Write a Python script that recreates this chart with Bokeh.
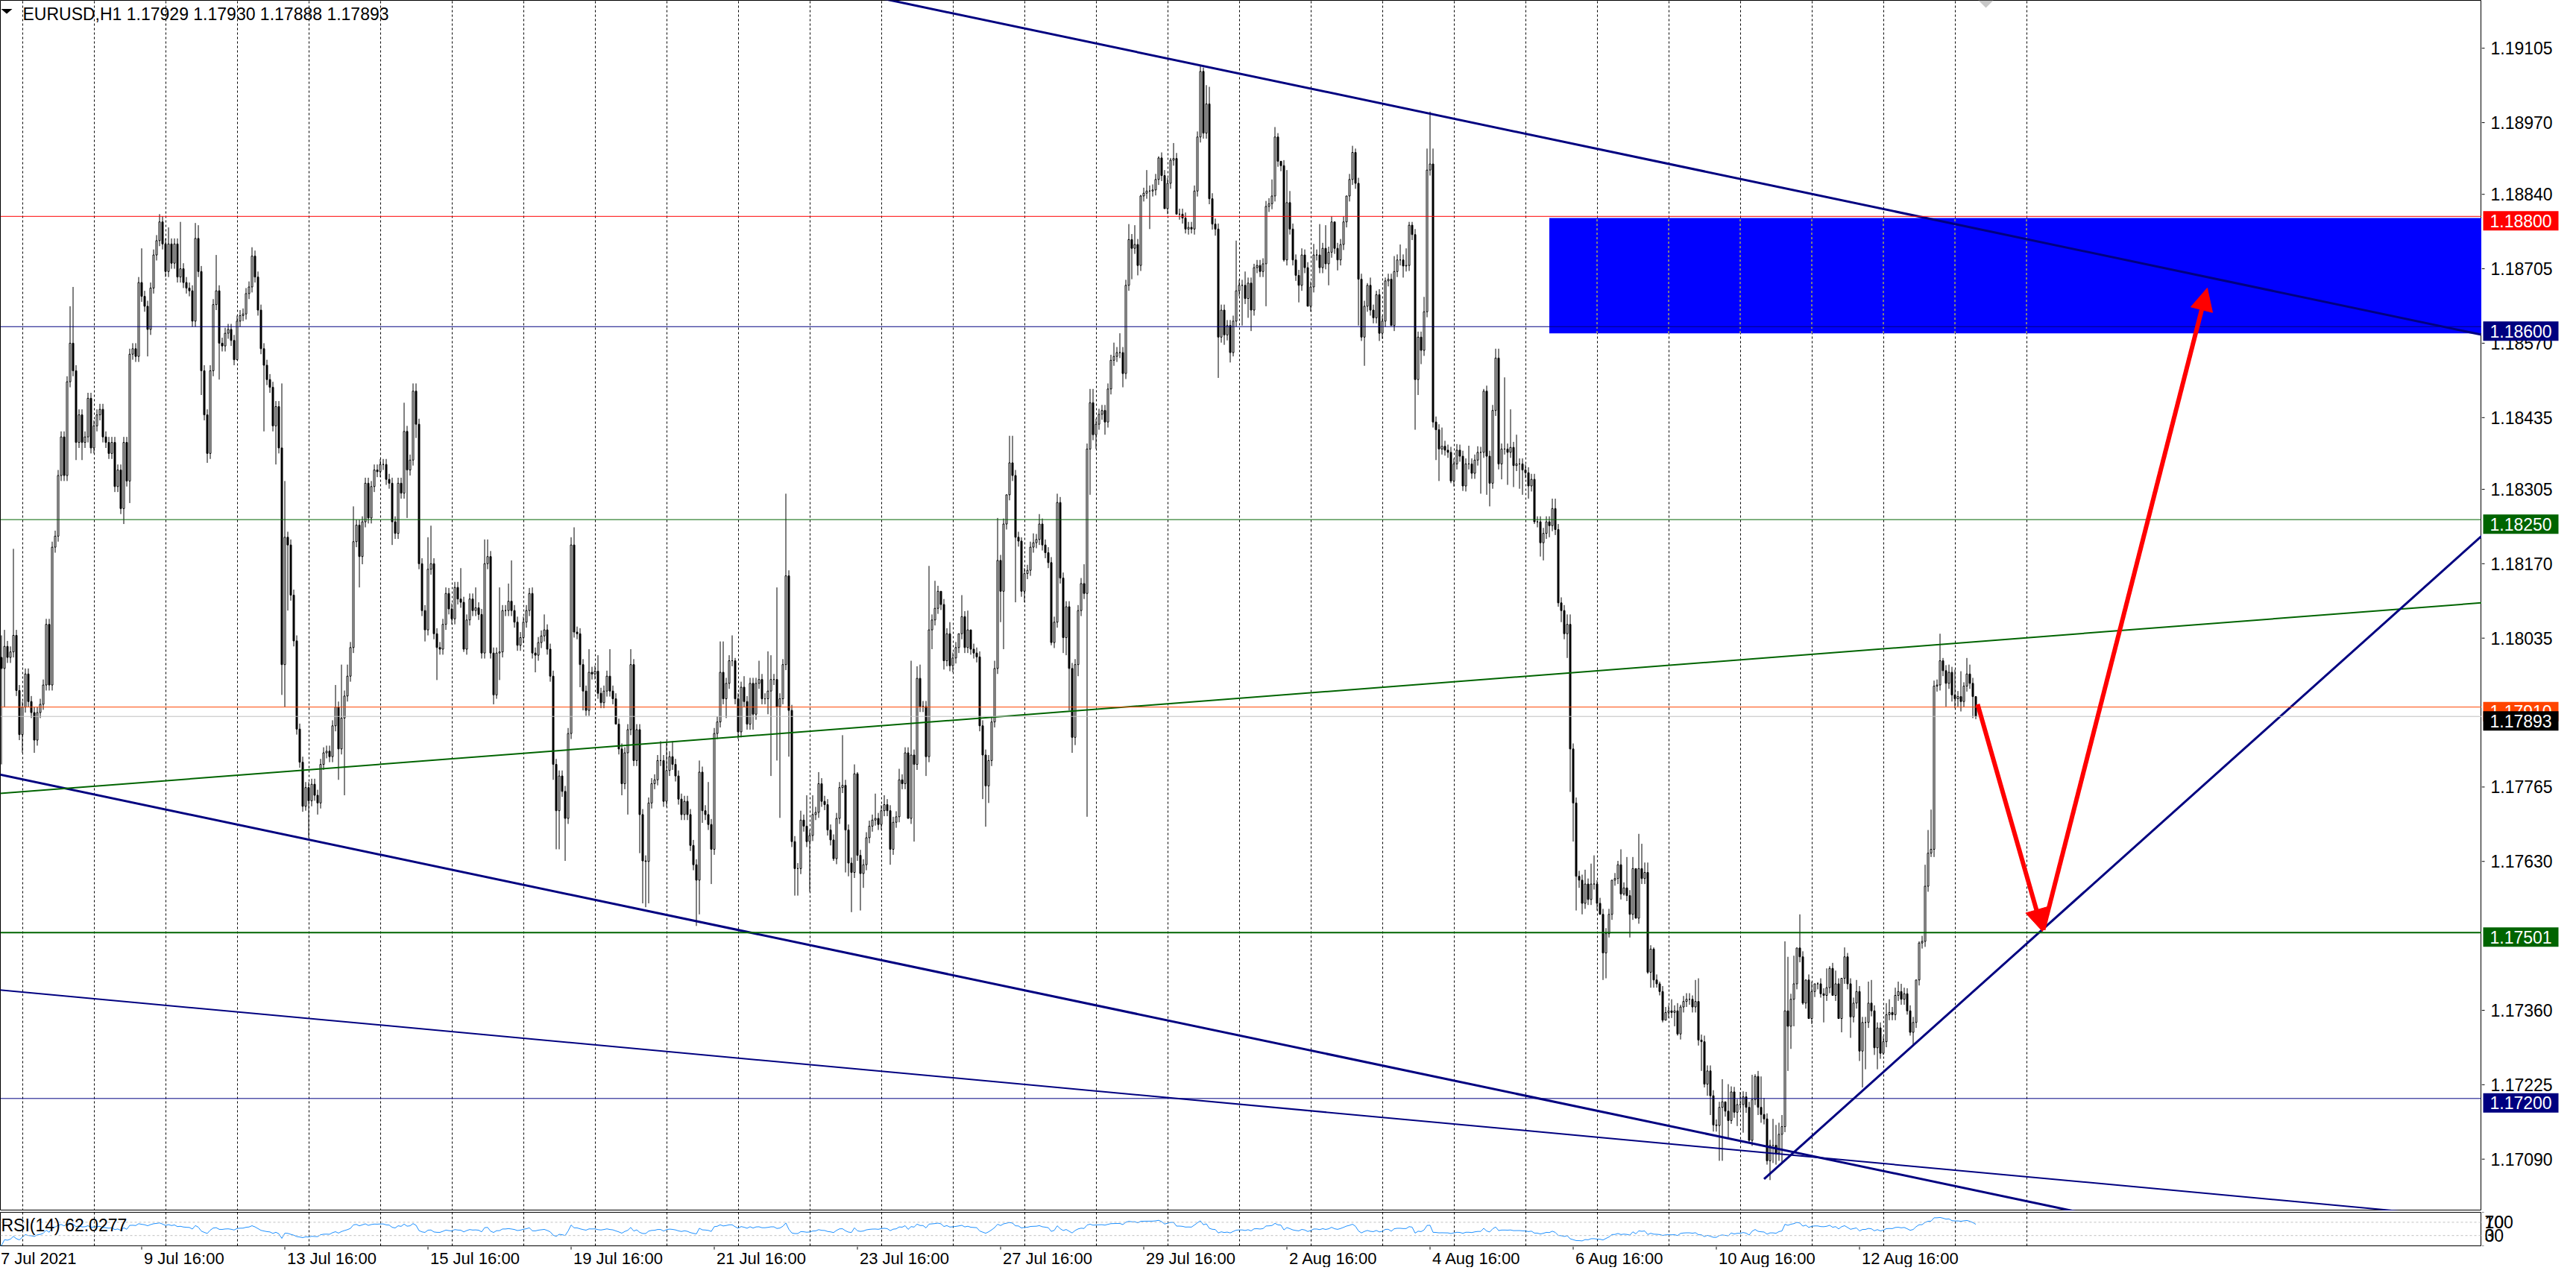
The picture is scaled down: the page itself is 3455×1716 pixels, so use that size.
import numpy as np
from bokeh.plotting import figure
from bokeh.layouts import column, row
from bokeh.models import (Range1d, FixedTicker, Grid, Label, Span,
                          Arrow, NormalHead, PolyAnnotation, ColumnDataSource)
from bokeh.core.properties import value
from bokeh.embed import file_html
from bokeh.resources import INLINE

# ---------------- data (prices in pips above BASE) ----------------
SYMBOL = "EURUSD,H1"
BASE = 1.17
PIP = 0.0001
FIRST_OPEN_PIPS = 117.0
CLOSE_PIPS = [
    100, 98, 102, 100, 101, 104, 94, 86, 91, 97,
    92, 90, 85, 90, 91.5, 95, 106, 95, 120, 122,
    133, 140, 133, 150, 157, 152, 139, 144, 139, 140,
    147, 138, 142, 144, 145, 140, 139, 137, 139, 131,
    134, 127, 139, 132, 155, 156, 154.6, 168, 165.5, 163.7,
    159.5, 167, 173, 175.6, 179, 175, 170, 175, 171.5, 175,
    169, 170.5, 168, 167, 166.5, 161, 176, 170, 152, 144,
    137, 152, 164, 166.5, 157, 156.5, 158.8, 159.5, 157.5, 154,
    161, 162, 162.3, 166, 167.2, 172.8, 169, 163, 156, 153,
    150.4, 149, 142, 145.5, 138, 98.7, 121.8, 120.4, 111.3, 103,
    87, 81, 73, 76.4, 74, 77, 75, 73.6, 80.6, 82.7,
    83, 82, 87.6, 91, 83.4, 89, 93, 96.6, 101.8, 121,
    124, 118.3, 124.6, 131.6, 125.3, 131, 134, 133.7, 135, 135,
    132.3, 131.6, 124.6, 122.5, 131.6, 129.8, 141, 134, 135.8, 148.3,
    142.3, 117, 108.5, 105, 116, 117, 104.3, 101.8, 101.5, 106,
    111.6, 108.8, 107, 112.7, 110.6, 110, 101.5, 106.8, 110.6, 108.5,
    109, 107.8, 100.8, 117, 118.3, 100.8, 93.2, 100.8, 101, 108.5,
    108.5, 110.2, 108.5, 106.4, 102.2, 103.6, 106.4, 108.5, 111.6, 100.8,
    100.4, 102.7, 103.9, 105, 101.5, 96.6, 80.6, 72.2, 78.5, 75.7,
    70.8, 86.2, 120.4, 104.6, 104.3, 98.7, 93.9, 90.4, 97.3, 97,
    97.5, 93.5, 91.8, 93.9, 96.6, 93.9, 92.5, 87.9, 83.4, 77.1,
    82.7, 86.9, 98.7, 81.3, 86.9, 71.5, 63.1, 63, 73.6, 77.1,
    77.8, 81.3, 81.3, 73.9, 79.5, 82, 80.6, 78.5, 74.3, 71.5,
    73.9, 71.5, 65.9, 62.4, 59.6, 79.2, 72.2, 71.5, 69.7, 65.2,
    86.2, 88.3, 97.3, 92.5, 95.3, 99.4, 99.4, 92.5, 86.5, 94.6,
    92, 87.9, 95.3, 89.7, 95.3, 96, 92.5, 92.5, 93.9, 96,
    96, 91.1, 92.5, 98.7, 114.8, 90.4, 66.6, 61.7, 61.7, 70.5,
    69.4, 66.6, 67.7, 71.5, 71.9, 77.1, 73.9, 73.3, 68.7, 66.9,
    63.5, 70.8, 76.4, 76.8, 68.7, 62.7, 61, 78.9, 64.1, 60.8,
    62.4, 67.3, 69.4, 70.5, 70.8, 69.7, 72.2, 73.3, 72.2, 65.2,
    70.1, 71.1, 77.8, 77.1, 82.7, 70.8, 82.3, 80.6, 96.2, 91.1,
    91.1, 82, 105, 106.8, 108.9, 112, 109.6, 99.4, 104.3, 98.5,
    99.9, 101.8, 104.3, 107.4, 101.8, 105, 101.5, 100.8, 100.1, 87.6,
    82.3, 76.7, 81.3, 88.3, 98, 117.6, 112, 124.2, 129.5, 135.3,
    133, 121.8, 121.1, 112, 115.2, 115.8, 120, 120.8, 121.4, 124.2,
    120.4, 119, 117.2, 102.7, 106.4, 128.1, 114.4, 103.6, 109.2, 98,
    85.5, 98.7, 108.5, 113.4, 111.6, 137.8, 146.2, 140.4, 142.3, 144.1,
    144.8, 142.7, 148.7, 153.9, 154.6, 155.3, 155.3, 151.5, 167.5, 175.8,
    174.2, 174.9, 171.1, 183.7, 184.2, 184.6, 184.6, 184.8, 186.7, 190.6,
    187.4, 181.4, 186, 190.2, 190.5, 180.4, 180.4, 179.7, 177.7, 178,
    177.7, 184.6, 194.4, 206.3, 195.1, 200.4, 183.2, 178.6, 177.7, 158.1,
    163, 158.5, 160.2, 155.3, 161, 166.5, 167.5, 167.5, 165.1, 167.9,
    163, 170.7, 171.1, 170, 171.4, 181.8, 182.3, 183.7, 194.4, 190,
    189.2, 172.1, 182.5, 177.7, 172.1, 169.3, 167.5, 173, 170.7, 163.7,
    167.2, 173, 173, 170.7, 174.2, 171.4, 173.5, 179, 174.2, 172.1,
    174.9, 179, 183.7, 186.7, 191.6, 186, 168.6, 158.1, 163.7, 167.5,
    163, 161.6, 165.8, 158.8, 161, 168.3, 168.6, 160.2, 170, 172.1,
    172.1, 171, 171.1, 178.4, 176.7, 150.4, 158.1, 155.7, 162.7, 188.4,
    189.5, 142.7, 141.3, 137.8, 138.3, 137.6, 137.2, 132, 135.1, 137.6,
    136.5, 131.1, 135.1, 135.1, 133.4, 135.8, 137.2, 137.2, 148.3, 136.5,
    131.6, 144.8, 154.3, 135.1, 137.8, 137.8, 137.2, 138.1, 134.8, 135.1,
    135.1, 134, 133.5, 131.1, 132.3, 124.6, 124.6, 120.8, 122.5, 124.6,
    123.9, 127, 123.2, 109.9, 108.5, 104.3, 106, 83.4, 73.6, 60.3,
    59.6, 55.4, 58.9, 56.1, 58.9, 58.9, 55.4, 53.4, 46.4, 49.9,
    53.4, 59.6, 59.9, 62.4, 57.1, 58.2, 56.8, 53.4, 61.7, 52.7,
    61.7, 59.9, 61, 42.9, 47.1, 41.5, 40.8, 39.4, 34.2, 35.6,
    35.9, 35.6, 35.9, 31.7, 36.6, 37.6, 38, 38, 36.6, 37.6,
    30.6, 30.3, 22.6, 25, 20.5, 15.2, 15.1, 18.4, 19.4, 17.7,
    16, 21.2, 17.5, 18.9, 18.9, 20.3, 18.4, 12.4, 19.8, 24,
    18.4, 17.1, 16.3, 8.7, 11.5, 11.5, 10.1, 13.5, 14.9, 35.9,
    33.1, 38, 40.8, 47.3, 45.7, 37.3, 41.5, 34.5, 39.4, 40.8,
    40.8, 39, 38.7, 40.1, 43.6, 38.7, 40.8, 34.5, 41.8, 45.7,
    40.8, 34.8, 37.3, 39.4, 28.6, 33.8, 33.8, 37.3, 35.9, 29.2,
    32.8, 28.2, 30.3, 35.2, 35.6, 35.2, 38.7, 39.4, 38, 39,
    35.9, 32, 33.8, 41.5, 48.2, 48.5, 58.5, 64.5, 65.2, 94.8,
    95, 99.4, 97.6, 95.3, 97.3, 93.2, 92.5, 92.9, 92, 94.8,
    97, 95.3, 92.9, 89.3,
]
# read-off wick extremes (bar index -> pips); other bars have a short default wick
HIGH_PIPS = {0: 118, 1: 104, 2: 105, 5: 119.7, 24: 163.7, 25: 167.2, 48: 174.2, 54: 180.4, 57: 178, 61: 179,
    66: 178.8, 67: 178.4, 73: 173, 85: 174.4, 95: 149.7, 96: 132, 113: 95, 115: 98.7, 117: 98.7, 119: 127.4,
    136: 146.2, 139: 149.7, 140: 149.7, 144: 121.8, 145: 123.9, 150: 112.7, 155: 116.2, 160: 112.7, 163: 121.4,
    164: 121.4, 168: 112.7, 171: 113.4, 172: 117.6, 179: 112.7, 183: 107.8, 192: 121.8, 193: 123.6, 198: 101.5,
    201: 100.4, 205: 101.5, 212: 101.5, 222: 84.8, 224: 84.8, 226: 84.8, 235: 81.3, 238: 77.4, 242: 102.9,
    243: 102.9, 246: 104, 247: 99.9, 250: 96.6, 255: 99.4, 258: 101.1, 259: 100.4, 261: 112.7, 264: 129.7,
    269: 72.2, 271: 75, 273: 75, 275: 79.2, 283: 85.9, 287: 80.6, 288: 79.2, 294: 75.3, 297: 75, 302: 79.8,
    306: 99.4, 308: 98.4, 309: 98.7, 312: 116.6, 314: 113.9, 316: 112, 319: 106.4, 322: 104.3, 323: 111.3,
    325: 108.5, 326: 104.9, 334: 99.4, 335: 125.3, 338: 125.3, 339: 140.2, 340: 140.2, 343: 121.8, 347: 122.5,
    349: 126, 355: 129.7, 364: 116.9, 366: 148.7, 367: 148.7, 374: 157.1, 376: 158.8, 379: 178.6, 381: 178.4,
    383: 183.9, 385: 188.4, 389: 190.9, 393: 190.6, 394: 193.3, 403: 207.4, 404: 207, 405: 203.8, 406: 203.5,
    415: 175.6, 418: 170, 421: 171.4, 427: 186.7, 428: 196.2, 429: 195.1, 430: 188.4, 432: 188.4, 433: 184.6,
    437: 174.2, 441: 175, 443: 178.6, 445: 178.4, 448: 175.3, 452: 182.3, 454: 192.8, 455: 192.3, 459: 167.9,
    460: 168.9, 462: 166.5, 465: 168.9, 468: 172.8, 470: 174.9, 472: 174.2, 473: 179, 474: 179, 478: 165.4,
    479: 192.3, 480: 199, 481: 192.3, 484: 141.7, 489: 138.7, 493: 138.4, 496: 138.3, 498: 148.7, 501: 145.8,
    502: 156, 503: 156, 505: 150.8, 507: 145, 509: 140.4, 521: 128.8, 522: 128.8, 526: 107.8, 527: 107.8,
    532: 61.5, 534: 62.6, 535: 64.1, 536: 59.6, 541: 59.6, 543: 63.1, 544: 65.2, 546: 63.8, 548: 63.8,
    549: 61.5, 550: 68, 551: 66.2, 552: 62.8, 553: 62.8, 554: 47.8, 555: 47.4, 557: 41.2, 561: 38, 563: 37.3,
    564: 37, 566: 39.1, 567: 39.1, 568: 38.7, 569: 41.5, 570: 41.8, 572: 31.4, 578: 23.5, 579: 19.4, 580: 22.6,
    582: 22.1, 584: 21.2, 586: 21.2, 588: 24.3, 589: 24.4, 591: 24, 592: 20.1, 595: 16.3, 596: 15.2, 597: 15.6,
    598: 17, 599: 48.5, 600: 45.7, 602: 45.9, 603: 47.3, 604: 53.4, 606: 41.2, 608: 41.2, 609: 40.4, 610: 41.1,
    613: 43.6, 614: 44, 616: 43.2, 618: 41.2, 619: 47.4, 620: 46.4, 623: 41.5, 627: 41.2, 628: 41.5, 633: 37.3,
    634: 38, 636: 40.1, 637: 41.2, 638: 40.8, 639: 40.1, 643: 41.5, 644: 48.5, 646: 62.4, 647: 68.7, 648: 72.4,
    651: 104.3, 652: 99.9, 654: 98.7, 656: 97.8, 658: 97.5, 659: 95.5, 660: 99.9, 661: 98.7, 663: 93.0}
LOW_PIPS = {0: 98, 1: 80.6, 2: 91, 8: 82.7, 12: 82.7, 26: 135.8, 28: 135.8, 42: 124.2, 44: 128, 50: 154.6,
    68: 147.6, 70: 135.3, 74: 150.4, 80: 154, 89: 141, 93: 135, 95: 93.2, 96: 91, 97: 108.5, 99: 102,
    103: 72.2, 104: 67.3, 107: 71.5, 114: 77.8, 116: 75, 121: 112.7, 122: 116.9, 132: 120.4, 137: 125.3,
    140: 139.8, 143: 102.9, 147: 95.9, 156: 101, 166: 91.5, 167: 92.5, 168: 95.9, 180: 97.3, 186: 77.8,
    187: 65.2, 188: 65.2, 190: 63.1, 195: 94.6, 196: 90.4, 207: 89.7, 209: 75, 211: 71.5, 215: 64.5,
    216: 55.4, 217: 54.7, 218: 55.4, 234: 51.3, 235: 53.4, 236: 70, 239: 58.9, 244: 89, 248: 85.2, 251: 86.9,
    253: 86.9, 258: 89.7, 259: 78.5, 261: 81.3, 262: 70.9, 265: 82, 267: 56.8, 268: 56.8, 272: 57.5,
    280: 63.1, 284: 61, 285: 60.3, 286: 53.8, 289: 54.1, 290: 58.2, 299: 62.4, 305: 70.8, 307: 66.6,
    311: 78.5, 313: 101.5, 317: 97.8, 320: 97.3, 330: 74.3, 331: 69.3, 332: 73.6, 336: 106.4, 337: 101.5,
    341: 110, 344: 110, 353: 102.2, 357: 100.8, 358: 100.4, 359: 90.4, 360: 82.7, 361: 84.1, 362: 96.6,
    365: 71.1, 366: 129.5, 368: 137.8, 371: 140.4, 377: 149, 380: 168.6, 382: 169.3, 386: 177.7, 391: 183.4,
    395: 180.4, 398: 176.9, 400: 176.9, 408: 176.5, 409: 150.7, 410: 157.1, 411: 156.7, 413: 153.5,
    414: 154.6, 417: 160.2, 419: 161.6, 420: 159.2, 425: 163.7, 431: 171.8, 436: 164.4, 439: 163.7,
    446: 167.5, 449: 170.2, 456: 160.2, 457: 157.4, 458: 152.9, 463: 157.4, 467: 160.6, 471: 168.9,
    475: 141.3, 476: 147.6, 477: 153.2, 482: 135.8, 483: 132, 487: 131.6, 491: 130.2, 497: 129.7, 499: 129.5,
    500: 127.4, 504: 132.3, 506: 131.3, 508: 130.9, 510: 130.6, 511: 129.5, 513: 128.8, 515: 124.2,
    517: 118.3, 518: 117.6, 520: 121.8, 523: 109.2, 524: 106.4, 526: 99.9, 527: 75.6, 528: 66.6, 529: 54.1,
    530: 58.2, 531: 53.4, 536: 54.1, 537: 53.4, 538: 41.5, 539: 41.8, 540: 49.2, 545: 56.8, 547: 49.2,
    549: 52.7, 553: 42.6, 554: 40.1, 555: 40.1, 556: 40.1, 557: 38.7, 558: 33.8, 559: 34.2, 562: 33.1,
    563: 31.4, 571: 25, 572: 22, 573: 20.5, 574: 17, 575: 14, 576: 14, 577: 8.7, 578: 8.7, 580: 12.8,
    581: 15.4, 583: 15, 585: 13.8, 587: 12.1, 590: 17, 591: 15.6, 593: 8, 594: 5.2, 595: 8.3, 596: 8,
    597: 8.7, 598: 8.3, 600: 25, 601: 29, 602: 33.1, 605: 37, 607: 34.5, 611: 38.3, 612: 33.8, 615: 38.7,
    617: 34.5, 618: 32, 621: 31, 624: 26.8, 625: 22, 626: 25.3, 629: 27.9, 630: 25.3, 632: 27.9, 640: 35.2,
    641: 31.4, 642: 29.7, 648: 63.8, 649: 63.8, 653: 91.1, 655: 92, 656: 90.8, 657: 91.1, 658: 90.2,
    662: 89, 663: 88.8}
WICK_PIPS = 1.0

PRICE_TICKS = [1.19105, 1.18970, 1.18840, 1.18705, 1.18570, 1.18435, 1.18305, 1.18170,
               1.18035, 1.17765, 1.17630, 1.17360, 1.17225, 1.17090]
TIME_TICKS = [0, 48, 96, 144, 192, 240, 288, 336, 384, 432, 480, 528, 576, 624]
TIME_LABELS = ["7 Jul 2021", "9 Jul 16:00", "13 Jul 16:00", "15 Jul 16:00", "19 Jul 16:00",
               "21 Jul 16:00", "23 Jul 16:00", "27 Jul 16:00", "29 Jul 16:00", "2 Aug 16:00",
               "4 Aug 16:00", "6 Aug 16:00", "10 Aug 16:00", "12 Aug 16:00"]
DAY_START_BARS = [8 + 24 * k for k in range(29)]   # midnight bars (grid)

LEVELS = [(1.18800, "#FF0000", 1), (1.18600, "#000080", 1), (1.18250, "#006400", 1),
          (1.17910, "#FF4500", 1), (1.17501, "#006400", 2), (1.17200, "#000080", 1)]
ZONE = dict(left=520, top=1.18797, bottom=1.18588)
TRENDLINES = [  # (anchor A, anchor B, color, width, start bar)
    ((329, 1.19158), (664, 1.18777), "#000080", 3, None),
    ((0, 1.17788), (664, 1.17032), "#000080", 3, None),
    ((0, 1.17397), (664, 1.17066), "#000080", 2, None),
    ((0, 1.17753), (664, 1.18029), "#006400", 2, None),
    ((592, 1.17054), (664, 1.17403), "#000080", 3, 592),
]
ARROWS = [((663.6, 1.17915), (685.4, 1.17503)), ((685.6, 1.17506), (740.6, 1.18670))]
RSI_PERIOD = 14
RSI_LEVELS = [70, 30]
RSI_TEXT = "RSI(14) 62.0277"

# ---------------- layout constants ----------------
FONT = "Liberation Sans"
FS = "23px"
W, RB = 3439, 111
FW = W - RB
MAIN_H, RSI_H, TIME_H = 1624, 48, 28
X0, X1 = 0.625, 832.625
Y0, Y1 = 1.169963, 1.191918
PPP = MAIN_H / (Y1 - Y0)          # pixels per price unit in the main pane

def price(v):
    return BASE + v * PIP

n = len(CLOSE_PIPS)
idx = list(range(n))
opens = [FIRST_OPEN_PIPS] + CLOSE_PIPS[:-1]
highs, lows = [], []
for i, (o, c) in enumerate(zip(opens, CLOSE_PIPS)):
    highs.append(max(HIGH_PIPS.get(i, max(o, c) + WICK_PIPS), max(o, c)))
    lows.append(min(LOW_PIPS.get(i, min(o, c) - WICK_PIPS), min(o, c)))

src = ColumnDataSource(dict(
    x=idx,
    h=[price(v) for v in highs],
    l=[price(v) for v in lows],
    top=[price(max(o, c)) for o, c in zip(opens, CLOSE_PIPS)],
    bot=[price(min(o, c)) for o, c in zip(opens, CLOSE_PIPS)],
    fill=["white" if c >= o else "black" for o, c in zip(opens, CLOSE_PIPS)],
))

# RSI (Wilder)
cl = np.array([FIRST_OPEN_PIPS] + CLOSE_PIPS, dtype=float)
d = np.diff(cl)
g = np.clip(d, 0, None)
ls = np.clip(-d, 0, None)
ag = np.zeros(n); al = np.zeros(n)
ag[0], al[0] = g[0], ls[0]
for i in range(1, n):
    k = min(i + 1, RSI_PERIOD)
    ag[i] = ag[i - 1] + (g[i] - ag[i - 1]) / k
    al[i] = al[i - 1] + (ls[i] - al[i - 1]) / k
rsi = np.where(al + ag > 0, 100 * ag / np.maximum(ag + al, 1e-12), 50.0)


def make_fig(width, height, x_range, y_range, **kw):
    f = figure(width=width, height=height, x_range=x_range, y_range=y_range,
               output_backend="svg", toolbar_location=None, x_axis_location=None,
               y_axis_location=None, min_border_left=0, min_border_right=0,
               min_border_top=kw.pop("top", 0), min_border_bottom=kw.pop("bottom", 0), **kw)
    f.background_fill_color = "white"
    f.border_fill_color = "white"
    f.grid.visible = False
    return f


def day_grid(f):
    f.add_layout(Grid(dimension=0, ticker=FixedTicker(ticks=DAY_START_BARS), grid_line_color="black",
                      grid_line_dash="3 3", grid_line_width=1))

# ---------------- main chart ----------------
p = make_fig(FW, MAIN_H, Range1d(X0, X1), Range1d(Y0, Y1))
p.outline_line_color = "black"
day_grid(p)

# zone rectangle + grid showing through it
p.quad(left=[ZONE["left"]], right=[X1 + 10], top=[ZONE["top"]], bottom=[ZONE["bottom"]],
       fill_color="#0000FF", line_color=None)
zx = [b for b in DAY_START_BARS if b >= ZONE["left"]]
p.segment(x0=zx, x1=zx, y0=[ZONE["bottom"]] * len(zx), y1=[ZONE["top"]] * len(zx),
          line_color="#FFFF00", line_dash="3 3", line_width=1)

# candles
p.segment(x0="x", y0="l", x1="x", y1="h", source=src, line_color="black", line_width=1)
p.vbar(x="x", top="top", bottom="bot", width=0.5, fill_color="fill", line_color="black",
       line_width=1, source=src)

# horizontal levels
for lvl, col, wd in LEVELS:
    p.add_layout(Span(location=lvl, dimension="width", line_color=col, line_width=wd))
last_close = price(CLOSE_PIPS[-1])
p.add_layout(Span(location=last_close, dimension="width", line_color="#C0C0C0", line_width=1))

# trend lines
for (xa, ya), (xb, yb), col, wd, start in TRENDLINES:
    k = (yb - ya) / (xb - xa)
    xs = [start if start is not None else X0 - 5, X1 + 5]
    p.line(xs, [ya + k * (x - xa) for x in xs], line_color=col, line_width=wd)

# arrows
for (xs_, ys_), (xe, ye) in ARROWS:
    p.add_layout(Arrow(end=NormalHead(size=30, fill_color="#FF0000", line_color="#FF0000", line_width=1),
                       x_start=xs_, y_start=ys_, x_end=xe, y_end=ye,
                       line_color="#FF0000", line_width=6))

# header
o_, h_, l_, c_ = price(opens[-1]), price(highs[-1]), price(lows[-1]), price(CLOSE_PIPS[-1])
title = f"{SYMBOL}  {o_:.5f} {h_:.5f} {l_:.5f} {c_:.5f}"
p.add_layout(Label(x=30, y=MAIN_H - 18, x_units="screen", y_units="screen", text=title,
                   text_font=FONT, text_font_size=FS, text_color="black", text_baseline="middle"))
p.add_layout(PolyAnnotation(xs=[1, 16, 8.5], ys=[MAIN_H - 11.5, MAIN_H - 11.5, MAIN_H - 18],
                            xs_units="screen", ys_units="screen", fill_color="black",
                            fill_alpha=1, line_color=None))
p.add_layout(PolyAnnotation(xs=[2653, 2673, 2663], ys=[MAIN_H, MAIN_H, MAIN_H - 10],
                            xs_units="screen", ys_units="screen", fill_color="#C8C8C8",
                            fill_alpha=1, line_color=None))

# ---------------- price scale (right of the chart) ----------------
ps = make_fig(RB, MAIN_H, Range1d(0, RB), p.y_range)
ps.outline_line_color = None
ps.segment(x0=[0] * len(PRICE_TICKS), x1=[4] * len(PRICE_TICKS), y0=PRICE_TICKS, y1=PRICE_TICKS,
           line_color="black", line_width=1)
ps.text(x=[12] * len(PRICE_TICKS), y=PRICE_TICKS, text=[f"{v:.5f}" for v in PRICE_TICKS],
        text_font=value(FONT), text_font_size=FS, text_align="left", text_baseline="middle",
        text_color="black")
tags = [(lvl, col) for lvl, col, _ in LEVELS[:4]] + [(last_close, "#000000")] + \
       [(lvl, col) for lvl, col, _ in LEVELS[4:]]
for lvl, col in tags:
    ctr = lvl - 6 / PPP
    ps.quad(left=[2], right=[103], top=[ctr + 13 / PPP], bottom=[ctr - 13 / PPP],
            fill_color=col, line_color=None)
    ps.text(x=[11], y=[lvl], text=[f"{lvl:.5f}"], text_font=value(FONT), text_font_size=FS,
            text_align="left", text_baseline="middle", y_offset=6, text_color="white")

# ---------------- RSI pane ----------------
r = make_fig(FW, RSI_H, p.x_range, Range1d(-1.0, 100), top=2, bottom=1)
r.outline_line_color = "black"
day_grid(r)
for lv in RSI_LEVELS:
    r.add_layout(Span(location=lv, dimension="width", line_color="#C0C0C0", line_dash="3 3",
                      line_width=1))
r.line(idx, rsi, line_color="#1E90FF", line_width=1)
r.add_layout(Label(x=1, y=28, x_units="screen", y_units="screen", text=RSI_TEXT,
                   text_font=FONT, text_font_size=FS, text_baseline="middle", text_color="black"))

rs = make_fig(RB, RSI_H, Range1d(0, RB), r.y_range, top=2, bottom=1)
rs.outline_line_color = None
rs.segment(x0=[0, 0], x1=[3, 3], y0=[100, -1], y1=[100, -1], line_color="black")
rs.text(x=[4, 4, 4, 4], y=[70, 70, 30, 30], text=["100", "70", "0", "30"],
        text_font=value(FONT), text_font_size=FS, text_align="left", text_baseline="middle",
        text_color="black")

# ---------------- time labels ----------------
t = make_fig(W, TIME_H, Range1d(X0, X0 + W / 4), Range1d(0, TIME_H))
t.outline_line_color = None
t.segment(x0=TIME_TICKS, x1=TIME_TICKS, y0=[TIME_H] * len(TIME_TICKS),
          y1=[TIME_H - 4] * len(TIME_TICKS), line_color="black", line_width=1)
t.text(x=TIME_TICKS, y=[12.5] * len(TIME_TICKS), text=TIME_LABELS, text_font=value(FONT),
       text_font_size="22px", text_align="left", text_baseline="middle", x_offset=3,
       text_color="black")

layout = column(row(p, ps, spacing=0), row(r, rs, spacing=0), t, spacing=0)
open("out.html", "w").write(file_html(layout, INLINE))
